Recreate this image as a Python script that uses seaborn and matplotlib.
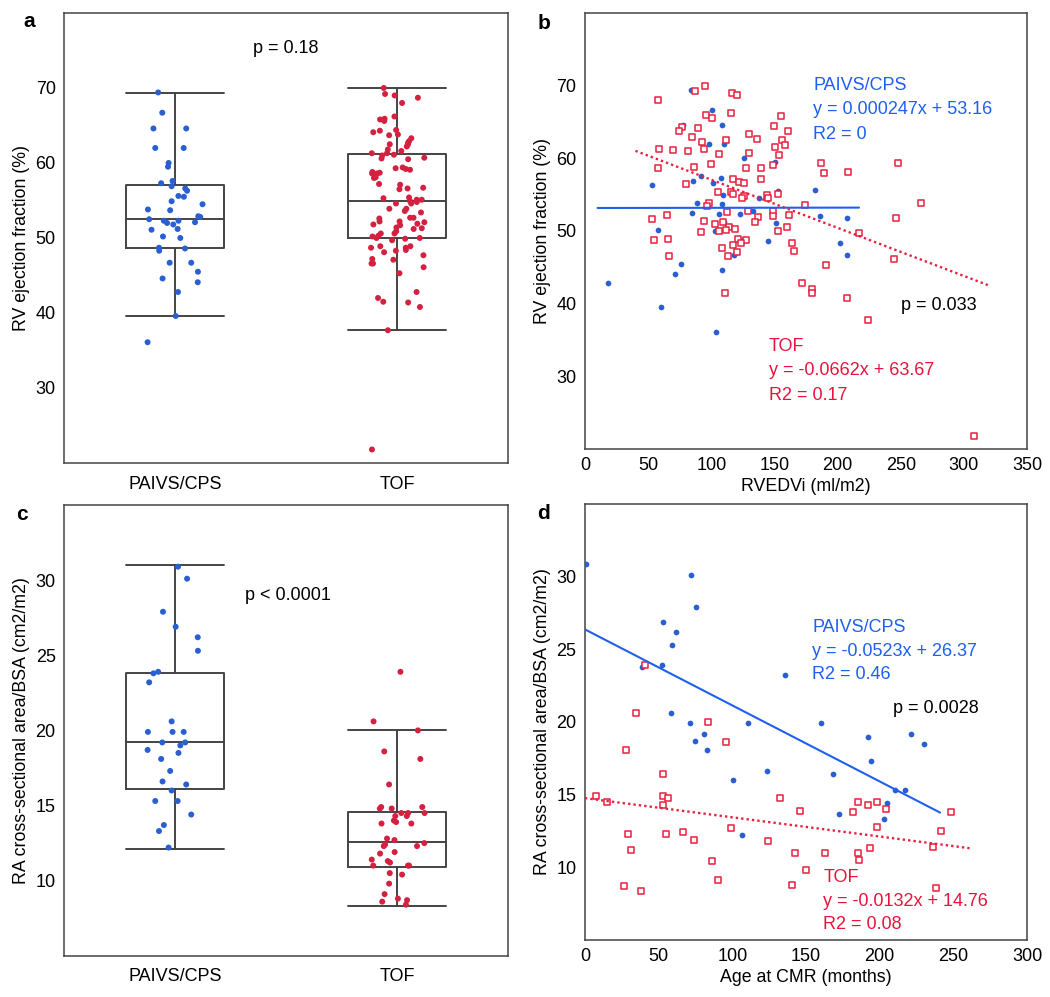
import matplotlib
matplotlib.use('Agg')
from matplotlib import pyplot as plt
import seaborn as sns
import pandas as pd
import numpy as np

# panel b (and a): RVEDVi vs RV ejection fraction
paivs_rvedvi = [18.5, 52.9, 58.2, 60.6, 71.4, 76.2, 77.8, 83.9, 84.7, 85.4,
                88.4, 91.8, 97.9, 100.3, 101.3, 103.2, 103.7, 105.8, 107.9, 108.2,
                108.2, 108.7, 109.3, 109.8, 110.3, 118.3, 122.5, 125.1, 126.2, 133.3,
                137.8, 145.0, 148.9, 148.9, 150.3, 151.6, 152.9, 182.5, 186.2, 201.6,
                207.1, 207.7]
paivs_rvef = [42.8, 56.3, 50.2, 39.6, 44.1, 45.5, 64.6, 69.4, 52.5, 56.9,
              53.8, 57.6, 62.0, 66.7, 56.6, 50.0, 36.1, 52.3, 57.3, 53.7,
              44.6, 64.6, 54.9, 62.0, 51.2, 46.7, 52.3, 48.7, 60.0, 52.8,
              54.5, 48.6, 52.9, 52.1, 59.5, 51.1, 55.5, 55.6, 52.0, 48.3,
              46.7, 51.8]
tof_rvedvi = [94.7, 87.0, 116.1, 120.4, 57.9, 96.0, 100.5, 115.6, 155.3, 76.7,
              74.1, 89.9, 150.0, 161.1, 84.9, 130.2, 136.0, 111.9, 155.8, 92.6,
              158.2, 150.8, 58.7, 70.1, 94.2, 81.7, 129.6, 105.8, 153.4, 99.5,
              148.9, 186.5, 247.6, 57.7, 86.0, 127.5, 139.2, 189.4, 207.9, 139.4,
              117.5, 122.2, 125.9, 79.9, 105.6, 115.9, 117.5, 152.9, 143.9, 144.7,
              125.7, 124.3, 97.9, 96.3, 174.6, 266.4, 53.2, 65.3, 112.7, 129.1,
              148.7, 149.2, 136.8, 161.4, 246.6, 94.2, 134.4, 109.0, 102.6, 114.0,
              160.1, 118.8, 111.9, 106.1, 91.8, 153.2, 216.7, 54.5, 65.9, 120.9,
              127.5, 123.5, 116.9, 164.0, 108.5, 120.6, 165.9, 66.4, 113.5, 244.4,
              190.7, 171.7, 180.0, 180.0, 110.6, 207.4, 224.3, 308.2]
tof_rvef = [70.0, 69.2, 69.0, 68.7, 68.0, 65.9, 65.6, 66.2, 65.8, 64.3,
            63.8, 64.1, 64.4, 63.7, 62.9, 63.3, 62.7, 62.5, 62.5, 62.2,
            61.8, 61.6, 61.3, 61.1, 61.3, 61.0, 60.7, 60.6, 60.5, 59.2,
            59.1, 59.3, 59.4, 58.6, 58.8, 58.7, 58.6, 58.0, 58.1, 57.1,
            57.2, 56.7, 56.6, 56.5, 55.4, 55.3, 55.1, 55.1, 54.9, 54.6,
            54.8, 54.6, 53.9, 53.4, 53.6, 53.9, 51.7, 52.2, 52.6, 52.7,
            52.7, 52.1, 51.9, 52.2, 51.8, 51.4, 51.3, 51.2, 50.9, 50.6,
            50.6, 50.3, 50.2, 50.0, 49.9, 50.0, 49.7, 48.7, 48.9, 48.9,
            48.7, 48.3, 48.1, 48.4, 47.7, 47.1, 47.2, 46.6, 46.6, 46.1,
            45.3, 42.8, 42.0, 41.5, 41.4, 40.8, 37.7, 21.8]

# panel d (and c): age vs RA area/BSA
paivs_age = [0.5, 72.3, 75.5, 53.1, 62.0, 59.3, 38.5, 52.0, 135.9, 58.2,
             71.2, 110.6, 159.9, 81.0, 221.4, 192.2, 74.6, 230.1, 82.6, 194.1,
             123.8, 168.1, 100.3, 210.3, 217.3, 205.2, 172.2, 203.2, 106.5]
paivs_ra = [30.9, 30.1, 27.9, 26.9, 26.2, 25.3, 23.8, 23.9, 23.2, 20.6,
            19.9, 19.9, 19.9, 19.2, 19.2, 19.0, 18.7, 18.5, 18.1, 17.3,
            16.6, 16.4, 16.0, 15.3, 15.3, 14.4, 13.7, 13.3, 12.2]
tof_age = [7.3, 14.8, 26.2, 28.0, 29.0, 31.0, 34.9, 38.1, 41.0, 53.1,
           53.1, 56.3, 53.1, 55.2, 66.4, 74.3, 83.7, 86.4, 90.5, 95.6,
           99.4, 124.5, 132.7, 140.7, 142.8, 145.7, 149.8, 162.8, 182.0, 185.2,
           185.2, 186.1, 192.0, 193.2, 198.2, 198.2, 204.3, 236.5, 238.3, 241.3,
           248.6]
tof_ra = [14.9, 14.5, 8.7, 18.1, 12.3, 11.2, 20.6, 8.4, 23.9, 16.4,
          14.9, 14.8, 14.3, 12.3, 12.4, 11.9, 20.0, 10.4, 9.1, 18.6,
          12.7, 11.8, 14.8, 8.8, 11.0, 13.9, 9.8, 11.0, 13.8, 14.5,
          11.0, 10.5, 14.3, 11.3, 14.5, 12.8, 14.0, 11.4, 8.6, 12.5,
          13.8]

groups = ['PAIVS/CPS', 'TOF']
# box stats: whisker low, q1, median, q3, whisker high
rvef_box = [[39.6, 48.7, 52.5, 57.0, 69.3], [37.7, 50.0, 54.9, 61.2, 70.0]]
ra_box = [[12.1, 16.1, 19.2, 23.8, 31.0], [8.3, 10.9, 12.6, 14.6, 20.0]]

# regression fits as printed: slope, intercept, x range
rvef_fit_paivs = (0.000247, 53.16, 10, 217)
rvef_fit_tof = (-0.0662, 63.67, 40, 320)
ra_fit_paivs = (-0.0523, 26.37, 0, 241)
ra_fit_tof = (-0.0132, 14.76, 0, 261)

BLUE = '#2a5fd2'
RED = '#d42140'
RED_SQ = '#e8203e'
TXT_BLUE = '#1f5ff0'
TXT_RED = '#e5143c'
FRAME = '#444444'
TICK_FS = 13
LABEL_FS = 12.8

sns.set_style('white')
plt.rcParams['font.family'] = ['Liberation Sans', 'DejaVu Sans']
plt.rcParams['font.size'] = 13
plt.rcParams['text.color'] = 'black'
plt.rcParams['axes.labelcolor'] = 'black'
plt.rcParams['xtick.labelcolor'] = 'black'
plt.rcParams['ytick.labelcolor'] = 'black'

fig = plt.figure(figsize=(10.5, 9.97), dpi=100)
ax_a = fig.add_axes([0.061, 0.5356, 0.4229, 0.4514])
ax_b = fig.add_axes([0.5571, 0.5497, 0.421, 0.4373])
ax_c = fig.add_axes([0.061, 0.0414, 0.4229, 0.452])
ax_d = fig.add_axes([0.5571, 0.0572, 0.421, 0.4373])


def style_frame(ax):
    for sp in ax.spines.values():
        sp.set_visible(True)
        sp.set_color(FRAME)
        sp.set_linewidth(1.1)
    ax.tick_params(axis='both', direction='in', length=3, width=0.8,
                   color=FRAME, labelcolor='black', labelsize=TICK_FS, pad=6)


def box_panel(ax, vals_p, vals_t, box, ylabel, yticks):
    df = pd.DataFrame({'group': ['PAIVS/CPS'] * len(vals_p) + ['TOF'] * len(vals_t),
                       'value': list(vals_p) + list(vals_t)})
    stats = []
    for b in box:
        stats.append(dict(whislo=b[0], q1=b[1], med=b[2], q3=b[3], whishi=b[4], fliers=[]))
    lp = dict(color=FRAME, linewidth=1.4)
    ax.bxp(stats, positions=[0, 1], widths=0.44, capwidths=0.44, showfliers=False,
           manage_ticks=False, boxprops=lp, whiskerprops=lp, capprops=lp, medianprops=lp)
    np.random.seed(3)
    sns.stripplot(data=df, x='group', y='value', hue='group', order=groups,
                  palette=[BLUE, RED], jitter=0.13, size=4.3, linewidth=0,
                  legend=False, ax=ax, zorder=3)
    ax.set_xlim(-0.5, 1.5)
    ax.set_xticks([0, 1])
    ax.set_xticklabels(groups)
    ax.set_yticks(yticks)
    ax.set_xlabel('')
    ax.set_ylabel(ylabel, fontsize=LABEL_FS)
    style_frame(ax)
    ax.tick_params(axis='x', length=0, pad=9)


def scatter_panel(ax, xp, yp, xt, yt, fit_p, fit_t):
    sns.scatterplot(x=xp, y=yp, ax=ax, color=BLUE, s=17, linewidth=0, marker='o', zorder=3)
    sns.scatterplot(x=xt, y=yt, ax=ax, color='white', edgecolor=RED_SQ, s=17,
                    linewidth=1.1, marker='s', zorder=4)
    m, c, x0, x1 = fit_p
    xs = np.array([x0, x1])
    ax.plot(xs, m * xs + c, color=TXT_BLUE, linewidth=1.5, zorder=5)
    m, c, x0, x1 = fit_t
    xs = np.array([x0, x1])
    ax.plot(xs, m * xs + c, color=RED_SQ, linewidth=1.7, linestyle=(0, (1, 1.3)), zorder=5)
    style_frame(ax)


# panel a
box_panel(ax_a, paivs_rvef, tof_rvef, rvef_box, 'RV ejection fraction (%)', [30, 40, 50, 60, 70])
ax_a.set_ylim(20, 80)
ax_a.text(0.5, 75.2, 'p = 0.18', ha='center', va='center', fontsize=13)

# panel b
scatter_panel(ax_b, paivs_rvedvi, paivs_rvef, tof_rvedvi, tof_rvef, rvef_fit_paivs, rvef_fit_tof)
ax_b.set_xlim(0, 350)
ax_b.set_ylim(20, 80)
ax_b.set_xticks(range(0, 351, 50))
ax_b.set_yticks([30, 40, 50, 60, 70])
ax_b.set_xlabel('RVEDVi (ml/m2)', fontsize=LABEL_FS, labelpad=3)
ax_b.set_ylabel('RV ejection fraction (%)', fontsize=LABEL_FS)
kw = dict(ha='left', va='center', fontsize=13)
ax_b.text(180.7, 70.0, 'PAIVS/CPS', color=TXT_BLUE, **kw)
ax_b.text(180.7, 66.7, 'y = 0.000247x + 53.16', color=TXT_BLUE, **kw)
ax_b.text(180.7, 63.3, 'R2 = 0', color=TXT_BLUE, **kw)
ax_b.text(250.0, 39.7, 'p = 0.033', color='black', **kw)
ax_b.text(145.5, 34.1, 'TOF', color=TXT_RED, **kw)
ax_b.text(145.5, 30.8, 'y = -0.0662x + 63.67', color=TXT_RED, **kw)
ax_b.text(145.5, 27.4, 'R2 = 0.17', color=TXT_RED, **kw)

# panel c
box_panel(ax_c, paivs_ra, tof_ra, ra_box, 'RA cross-sectional area/BSA (cm2/m2)', [10, 15, 20, 25, 30])
ax_c.set_ylim(5, 35)
ax_c.text(0.51, 29.0, 'p < 0.0001', ha='center', va='center', fontsize=13)

# panel d
scatter_panel(ax_d, paivs_age, paivs_ra, tof_age, tof_ra, ra_fit_paivs, ra_fit_tof)
ax_d.set_xlim(0, 300)
ax_d.set_ylim(5, 35)
ax_d.set_xticks(range(0, 301, 50))
ax_d.set_yticks([10, 15, 20, 25, 30])
ax_d.set_xlabel('Age at CMR (months)', fontsize=LABEL_FS, labelpad=3)
ax_d.set_ylabel('RA cross-sectional area/BSA (cm2/m2)', fontsize=LABEL_FS)
ax_d.text(154.2, 26.47, 'PAIVS/CPS', color=TXT_BLUE, **kw)
ax_d.text(154.2, 24.83, 'y = -0.0523x + 26.37', color=TXT_BLUE, **kw)
ax_d.text(154.2, 23.24, 'R2 = 0.46', color=TXT_BLUE, **kw)
ax_d.text(209.1, 20.9, 'p = 0.0028', color='black', **kw)
ax_d.text(161.7, 9.3, 'TOF', color=TXT_RED, **kw)
ax_d.text(161.7, 7.66, 'y = -0.0132x + 14.76', color=TXT_RED, **kw)
ax_d.text(161.7, 6.06, 'R2 = 0.08', color=TXT_RED, **kw)

# panel letters
for lab, x, y in [('a', 0.0276, 0.978), ('b', 0.518, 0.976), ('c', 0.021, 0.4835), ('d', 0.518, 0.4845)]:
    fig.text(x, y, lab, fontsize=15, fontweight='bold', ha='center', va='center')

fig.savefig('out.png', dpi=100)
